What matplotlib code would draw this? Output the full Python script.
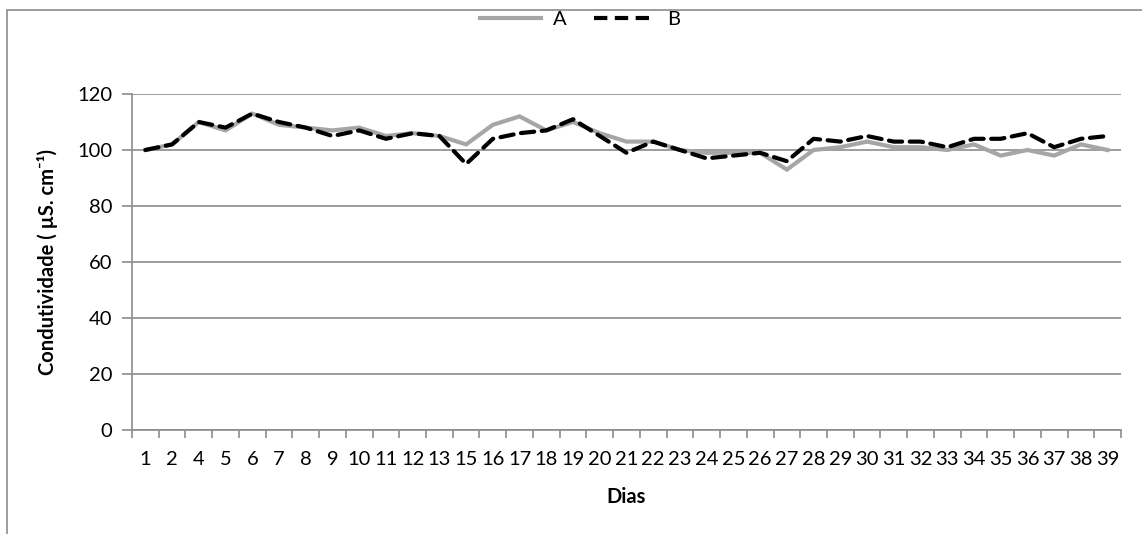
import matplotlib
matplotlib.use("Agg")
import matplotlib.pyplot as plt
from matplotlib.patches import Rectangle
from matplotlib.lines import Line2D

plt.rcParams['font.family'] = ['Lato', 'DejaVu Sans']

dias = ['1', '2', '4', '5', '6', '7', '8', '9', '10', '11', '12', '13',
        '15', '16', '17', '18', '19', '20', '21', '22', '23', '24', '25',
        '26', '27', '28', '29', '30', '31', '32', '33', '34', '35', '36',
        '37', '38', '39']

serie_a = [100, 102, 110, 107, 113, 109, 108, 107, 108, 105, 106, 105,
           102, 109, 112, 107, 110, 106, 103, 103, 100, 99, 99,
           99, 93, 100, 101, 103, 101, 101, 100, 102, 98, 100,
           98, 102, 100]

serie_b = [100, 102, 110, 108, 113, 110, 108, 105, 107, 104, 106, 105,
           95, 104, 106, 107, 111, 105, 99, 103, 100, 97, 98,
           99, 96, 104, 103, 105, 103, 103, 101, 104, 104, 106,
           101, 104, 105]

W, H = 1142, 534
fig = plt.figure(figsize=(W / 100, H / 100), dpi=100)

# chart frame
fig.patches.append(Rectangle((7 / W, -0.1), 1.2, 1 - 10 / H + 0.1,
                             transform=fig.transFigure, fill=False,
                             edgecolor='#8c8c8c', linewidth=1.2))

left, right, top, bottom = 132, 1121, 94, 430
ax = fig.add_axes([left / W, 1 - bottom / H, (right - left) / W, (bottom - top) / H])

fs = 14.5
x = range(len(dias))
ax.plot(x, serie_a, color='#a6a6a6', linewidth=3.0, solid_joinstyle='miter', label='A', zorder=3)
ax.plot(x, serie_b, color='black', linewidth=3.0, linestyle=(0, (3.2, 1.8)),
        dash_capstyle='round', label='B', zorder=4)

ax.set_xlim(-0.5, len(dias) - 0.5)
ax.set_ylim(0, 120)
ax.set_yticks(range(0, 121, 20))
ax.yaxis.grid(True, color='#8c8c8c', linewidth=1.2)
ax.set_axisbelow(True)

ax.set_xticks(list(x))
ax.set_xticklabels(dias)
ax.set_xticks([i - 0.5 for i in range(len(dias) + 1)], minor=True)
ax.tick_params(axis='x', which='major', length=0, pad=15, labelsize=fs)
ax.tick_params(axis='x', which='minor', length=6, color='#8c8c8c', width=1.2, direction='out')
ax.tick_params(axis='y', length=7, color='#8c8c8c', width=1.2, pad=7, labelsize=fs)

for s in ['top', 'right']:
    ax.spines[s].set_visible(False)
for s in ['left', 'bottom']:
    ax.spines[s].set_color('#8c8c8c')
    ax.spines[s].set_linewidth(1.2)

ax.set_xlabel('Dias', fontsize=fs, fontweight='bold', labelpad=14)
ax.set_ylabel('Condutividade ( µS. cm⁻¹)', fontsize=fs, fontweight='bold', labelpad=14)

handles = [Line2D([], [], color='#a6a6a6', linewidth=3.0),
           Line2D([], [], color='black', linewidth=3.0, linestyle=(0, (3.2, 1.8)))]
fig.legend(handles, ['A', 'B'], loc='center', bbox_to_anchor=(580 / W, 1 - 19 / H),
           ncol=2, frameon=False, fontsize=fs, handlelength=3.0, columnspacing=1.4,
           handletextpad=0.6)

fig.savefig('out.png', dpi=100)
